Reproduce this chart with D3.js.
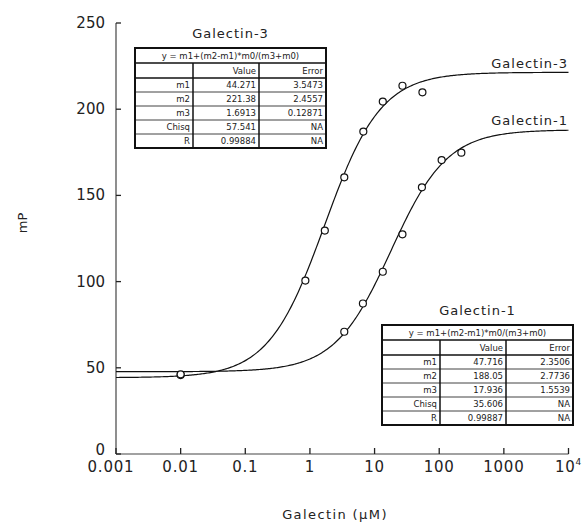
<!DOCTYPE html>
<html>
<head>
<meta charset="utf-8">
<script src="https://cdn.jsdelivr.net/npm/d3@7"></script>
<style>
  body { margin: 0; background: #fff; }
  text { font-family: "DejaVu Sans", sans-serif; fill: #222; }
</style>
</head>
<body>
<div id="chart"></div>
<script>
// ---- data ----
var g3Conc = [0.01, 0.85, 1.7, 3.4, 6.7, 13.4, 27, 55];
var g3mP   = [45.8, 100.6, 129.6, 160.5, 187, 204.4, 213.6, 209.8];
var g1Conc = [0.01, 3.4, 6.6, 13.4, 27, 54, 109, 220];
var g1mP   = [46.2, 70.9, 87.3, 105.7, 127.4, 154.7, 170.5, 174.8];

// fitted parameters from the tables (y = m1+(m2-m1)*m0/(m3+m0))
var g3Fit = [44.271, 221.38, 1.6913];
var g1Fit = [47.716, 188.05, 17.936];

var rowNames = ["m1", "m2", "m3", "Chisq", "R"];
var g3Value = ["44.271", "221.38", "1.6913", "57.541", "0.99884"];
var g3Error = ["3.5473", "2.4557", "0.12871", "NA", "NA"];
var g1Value = ["47.716", "188.05", "17.936", "35.606", "0.99887"];
var g1Error = ["2.3506", "2.7736", "1.5539", "NA", "NA"];

var xTicks = [0.001, 0.01, 0.1, 1, 10, 100, 1000, 10000];
var xTickLabels = ["0.001", "0.01", "0.1", "1", "10", "100", "1000", "10"];
var yTicks = [0, 50, 100, 150, 200, 250];

var width = 584, height = 524;

var svg = d3.select("#chart").append("svg")
    .attr("width", width)
    .attr("height", height);

var x = d3.scaleLog().domain([0.001, 10000]).range([116, 568.5]);
var y = d3.scaleLinear().domain([0, 250]).range([454, 23]);

// axes
svg.append("line")
    .attr("x1", x(0.001)).attr("x2", x(10000))
    .attr("y1", y(0)).attr("y2", y(0))
    .attr("stroke", "#444").attr("stroke-width", 1.2);
svg.append("line")
    .attr("x1", x(0.001)).attr("x2", x(0.001))
    .attr("y1", y(0)).attr("y2", y(250))
    .attr("stroke", "#444").attr("stroke-width", 1.2);

svg.selectAll(".xtick").data(xTicks).enter().append("line")
    .attr("x1", function(d) { return x(d); }).attr("x2", function(d) { return x(d); })
    .attr("y1", y(0)).attr("y2", y(0) - 6)
    .attr("stroke", "#222").attr("stroke-width", 1.3);
svg.selectAll(".ytick").data(yTicks).enter().append("line")
    .attr("x1", x(0.001)).attr("x2", x(0.001) + 5)
    .attr("y1", function(d) { return y(d); }).attr("y2", function(d) { return y(d); })
    .attr("stroke", "#222").attr("stroke-width", 1.3);

var xl = svg.selectAll(".xlab").data(xTicks).enter().append("text")
    .attr("x", function(d, i) { return i === 0 ? x(d) - 5 : x(d); })
    .attr("y", 472)
    .attr("text-anchor", "middle")
    .style("font-size", "15px")
    .style("letter-spacing", "0.8px")
    .text(function(d, i) { return xTickLabels[i]; });
xl.filter(function(d) { return d === 10000; })
  .append("tspan").attr("dy", -7).style("font-size", "9px").text("4");

svg.selectAll(".ylab").data(yTicks).enter().append("text")
    .attr("x", 105)
    .attr("y", function(d) { return y(d) + (d === 0 ? 1 : 5); })
    .attr("text-anchor", "end")
    .style("font-size", "15px")
    .text(function(d) { return d; });

svg.append("text")
    .attr("transform", "translate(27,223) rotate(-90)")
    .attr("text-anchor", "middle")
    .style("font-size", "13px")
    .text("mP");
svg.append("text")
    .attr("x", 335).attr("y", 519)
    .attr("text-anchor", "middle")
    .style("font-size", "13px")
    .style("letter-spacing", "1.4px")
    .text("Galectin (\u03bcM)");

// fitted curves
function fitLine(p) {
  var pts = [];
  for (var e = -3; e <= 4.0001; e += 0.02) {
    var m0 = Math.pow(10, e);
    pts.push([m0, p[0] + (p[1] - p[0]) * m0 / (p[2] + m0)]);
  }
  return pts;
}
var line = d3.line()
    .x(function(d) { return x(d[0]); })
    .y(function(d) { return y(d[1]); });

[g3Fit, g1Fit].forEach(function(p) {
  svg.append("path")
      .attr("d", line(fitLine(p)))
      .attr("fill", "none")
      .attr("stroke", "#111")
      .attr("stroke-width", 1.2);
});

function drawPoints(conc, vals) {
  svg.append("g").selectAll("circle").data(conc).enter().append("circle")
      .attr("cx", function(d) { return x(d); })
      .attr("cy", function(d, i) { return y(vals[i]); })
      .attr("r", 3.5)
      .attr("fill", "#fff")
      .attr("stroke", "#111")
      .attr("stroke-width", 1.2);
}
drawPoints(g3Conc, g3mP);
drawPoints(g1Conc, g1mP);

// curve labels
svg.append("text").attr("x", 568).attr("y", 68).attr("text-anchor", "end")
    .style("font-size", "13px").style("letter-spacing", "1px").text("Galectin-3");
svg.append("text").attr("x", 568).attr("y", 125).attr("text-anchor", "end")
    .style("font-size", "13px").style("letter-spacing", "1px").text("Galectin-1");

// fit tables
function drawTable(x0, y0, title, values, errors) {
  var colW = [58, 66, 67];
  var tw = colW[0] + colW[1] + colW[2];
  var eqH = 15, headH = 15, rowH = 14;
  var th = eqH + headH + rowH * rowNames.length;
  var g = svg.append("g").attr("transform", "translate(" + x0 + "," + y0 + ")");

  g.append("text").attr("x", tw / 2).attr("y", -10).attr("text-anchor", "middle")
      .style("font-size", "13px").style("letter-spacing", "1px").text(title);

  g.append("rect").attr("width", tw).attr("height", th)
      .attr("fill", "#fff").attr("stroke", "#111").attr("stroke-width", 2);

  g.append("text").attr("x", tw / 2).attr("y", eqH - 4).attr("text-anchor", "middle")
      .style("font-size", "8.5px").text("y = m1+(m2-m1)*m0/(m3+m0)");

  // horizontal rules
  var ys = [eqH, eqH + headH];
  for (var r = 1; r < rowNames.length; r++) ys.push(eqH + headH + r * rowH);
  g.selectAll(".hr").data(ys).enter().append("line")
      .attr("x1", 0).attr("x2", tw)
      .attr("y1", function(d) { return d; }).attr("y2", function(d) { return d; })
      .attr("stroke", "#111")
      .attr("stroke-width", function(d, i) { return i < 2 ? 1.5 : 0.8; });
  // column rules
  [colW[0], colW[0] + colW[1]].forEach(function(cx) {
    g.append("line").attr("x1", cx).attr("x2", cx).attr("y1", eqH).attr("y2", th)
        .attr("stroke", "#111").attr("stroke-width", 1.5);
  });

  var right = [colW[0] - 3, colW[0] + colW[1] - 3, tw - 3];
  g.append("text").attr("x", right[1]).attr("y", eqH + headH - 4).attr("text-anchor", "end")
      .style("font-size", "8.5px").text("Value");
  g.append("text").attr("x", right[2]).attr("y", eqH + headH - 4).attr("text-anchor", "end")
      .style("font-size", "8.5px").text("Error");

  rowNames.forEach(function(name, i) {
    var ty = eqH + headH + (i + 1) * rowH - 4;
    [name, values[i], errors[i]].forEach(function(t, c) {
      g.append("text").attr("x", right[c]).attr("y", ty).attr("text-anchor", "end")
          .style("font-size", "8.5px").text(t);
    });
  });
}
drawTable(135, 48, "Galectin-3", g3Value, g3Error);
drawTable(382, 325, "Galectin-1", g1Value, g1Error);
</script>
</body>
</html>
